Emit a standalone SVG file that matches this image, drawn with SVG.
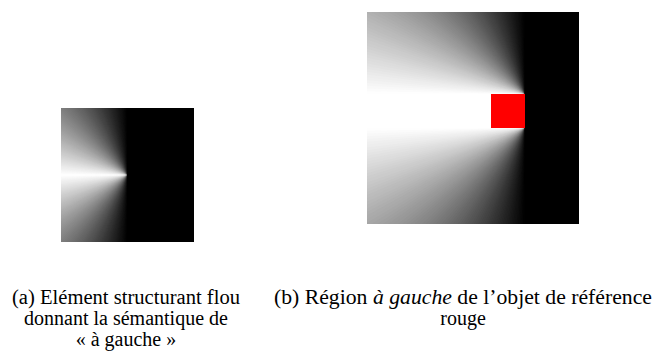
<svg xmlns="http://www.w3.org/2000/svg" width="659" height="354" viewBox="0 0 659 354">
<style>
.cap{font-family:"Liberation Serif","Times New Roman",Times,"Nimbus Roman","Noto Serif","DejaVu Serif",serif;font-size:20px;fill:#000;text-anchor:middle}
.it{font-style:italic}
</style>
<defs>
<polygon id="w" points="0,0 -2000,0 -2000,-2000 0,-2000"/>
<g id="fan">
<use href="#w" transform="rotate(0)" fill="#fefefe"/>
<use href="#w" transform="rotate(1)" fill="#fbfbfb"/>
<use href="#w" transform="rotate(2)" fill="#f8f8f8"/>
<use href="#w" transform="rotate(3)" fill="#f5f5f5"/>
<use href="#w" transform="rotate(4)" fill="#f2f2f2"/>
<use href="#w" transform="rotate(5)" fill="#efefef"/>
<use href="#w" transform="rotate(6)" fill="#ededed"/>
<use href="#w" transform="rotate(7)" fill="#eaeaea"/>
<use href="#w" transform="rotate(8)" fill="#e7e7e7"/>
<use href="#w" transform="rotate(9)" fill="#e4e4e4"/>
<use href="#w" transform="rotate(10)" fill="#e1e1e1"/>
<use href="#w" transform="rotate(11)" fill="#dedede"/>
<use href="#w" transform="rotate(12)" fill="#dcdcdc"/>
<use href="#w" transform="rotate(13)" fill="#d9d9d9"/>
<use href="#w" transform="rotate(14)" fill="#d6d6d6"/>
<use href="#w" transform="rotate(15)" fill="#d3d3d3"/>
<use href="#w" transform="rotate(16)" fill="#d0d0d0"/>
<use href="#w" transform="rotate(17)" fill="#cdcdcd"/>
<use href="#w" transform="rotate(18)" fill="#cbcbcb"/>
<use href="#w" transform="rotate(19)" fill="#c8c8c8"/>
<use href="#w" transform="rotate(20)" fill="#c5c5c5"/>
<use href="#w" transform="rotate(21)" fill="#c2c2c2"/>
<use href="#w" transform="rotate(22)" fill="#bfbfbf"/>
<use href="#w" transform="rotate(23)" fill="#bcbcbc"/>
<use href="#w" transform="rotate(24)" fill="#bababa"/>
<use href="#w" transform="rotate(25)" fill="#b7b7b7"/>
<use href="#w" transform="rotate(26)" fill="#b4b4b4"/>
<use href="#w" transform="rotate(27)" fill="#b1b1b1"/>
<use href="#w" transform="rotate(28)" fill="#aeaeae"/>
<use href="#w" transform="rotate(29)" fill="#ababab"/>
<use href="#w" transform="rotate(30)" fill="#a9a9a9"/>
<use href="#w" transform="rotate(31)" fill="#a6a6a6"/>
<use href="#w" transform="rotate(32)" fill="#a3a3a3"/>
<use href="#w" transform="rotate(33)" fill="#a0a0a0"/>
<use href="#w" transform="rotate(34)" fill="#9d9d9d"/>
<use href="#w" transform="rotate(35)" fill="#9a9a9a"/>
<use href="#w" transform="rotate(36)" fill="#989898"/>
<use href="#w" transform="rotate(37)" fill="#959595"/>
<use href="#w" transform="rotate(38)" fill="#929292"/>
<use href="#w" transform="rotate(39)" fill="#8f8f8f"/>
<use href="#w" transform="rotate(40)" fill="#8c8c8c"/>
<use href="#w" transform="rotate(41)" fill="#898989"/>
<use href="#w" transform="rotate(42)" fill="#878787"/>
<use href="#w" transform="rotate(43)" fill="#848484"/>
<use href="#w" transform="rotate(44)" fill="#818181"/>
<use href="#w" transform="rotate(45)" fill="#7e7e7e"/>
<use href="#w" transform="rotate(46)" fill="#7b7b7b"/>
<use href="#w" transform="rotate(47)" fill="#787878"/>
<use href="#w" transform="rotate(48)" fill="#767676"/>
<use href="#w" transform="rotate(49)" fill="#737373"/>
<use href="#w" transform="rotate(50)" fill="#707070"/>
<use href="#w" transform="rotate(51)" fill="#6d6d6d"/>
<use href="#w" transform="rotate(52)" fill="#6a6a6a"/>
<use href="#w" transform="rotate(53)" fill="#676767"/>
<use href="#w" transform="rotate(54)" fill="#656565"/>
<use href="#w" transform="rotate(55)" fill="#626262"/>
<use href="#w" transform="rotate(56)" fill="#5f5f5f"/>
<use href="#w" transform="rotate(57)" fill="#5c5c5c"/>
<use href="#w" transform="rotate(58)" fill="#595959"/>
<use href="#w" transform="rotate(59)" fill="#565656"/>
<use href="#w" transform="rotate(60)" fill="#545454"/>
<use href="#w" transform="rotate(61)" fill="#515151"/>
<use href="#w" transform="rotate(62)" fill="#4e4e4e"/>
<use href="#w" transform="rotate(63)" fill="#4b4b4b"/>
<use href="#w" transform="rotate(64)" fill="#484848"/>
<use href="#w" transform="rotate(65)" fill="#454545"/>
<use href="#w" transform="rotate(66)" fill="#434343"/>
<use href="#w" transform="rotate(67)" fill="#404040"/>
<use href="#w" transform="rotate(68)" fill="#3d3d3d"/>
<use href="#w" transform="rotate(69)" fill="#3a3a3a"/>
<use href="#w" transform="rotate(70)" fill="#373737"/>
<use href="#w" transform="rotate(71)" fill="#343434"/>
<use href="#w" transform="rotate(72)" fill="#323232"/>
<use href="#w" transform="rotate(73)" fill="#2f2f2f"/>
<use href="#w" transform="rotate(74)" fill="#2c2c2c"/>
<use href="#w" transform="rotate(75)" fill="#292929"/>
<use href="#w" transform="rotate(76)" fill="#262626"/>
<use href="#w" transform="rotate(77)" fill="#232323"/>
<use href="#w" transform="rotate(78)" fill="#212121"/>
<use href="#w" transform="rotate(79)" fill="#1e1e1e"/>
<use href="#w" transform="rotate(80)" fill="#1b1b1b"/>
<use href="#w" transform="rotate(81)" fill="#181818"/>
<use href="#w" transform="rotate(82)" fill="#151515"/>
<use href="#w" transform="rotate(83)" fill="#121212"/>
<use href="#w" transform="rotate(84)" fill="#101010"/>
<use href="#w" transform="rotate(85)" fill="#0d0d0d"/>
<use href="#w" transform="rotate(86)" fill="#0a0a0a"/>
<use href="#w" transform="rotate(87)" fill="#070707"/>
<use href="#w" transform="rotate(88)" fill="#040404"/>
<use href="#w" transform="rotate(89)" fill="#010101"/>
<use href="#w" transform="rotate(90)" fill="#000000"/>
</g>
<clipPath id="cA"><rect x="61" y="108" width="133" height="134"/></clipPath>
<clipPath id="cB"><rect x="367" y="12" width="212" height="212"/></clipPath>
</defs>
<rect width="659" height="354" fill="#fff"/>
<g id="elementA" clip-path="url(#cA)">
<rect x="61" y="108" width="133" height="134" fill="#000"/>
<use href="#fan" transform="translate(127.5,175)"/>
<use href="#fan" transform="translate(127.5,175) scale(1,-1)"/>
</g>
<g id="regionB" clip-path="url(#cB)">
<rect x="367" y="12" width="212" height="212" fill="#000"/>
<use href="#fan" transform="translate(525,94)"/>
<use href="#fan" transform="translate(525,128) scale(1,-1)"/>
<rect x="367" y="94" width="158" height="34" fill="#fff"/>
</g>
<g id="redObject">
<rect x="491" y="94" width="34" height="34" fill="#ff0000"/>
</g>
<g id="captionA">
<text class="cap" x="126" y="304" textLength="228" lengthAdjust="spacingAndGlyphs">(a) Elément structurant flou</text>
<text class="cap" x="126" y="325">donnant la sémantique de</text>
<text class="cap" x="126" y="346">« à gauche »</text>
</g>
<g id="captionB">
<text class="cap" x="463" y="304" textLength="378" lengthAdjust="spacingAndGlyphs">(b) Région <tspan class="it">à gauche</tspan> de l’objet de référence</text>
<text class="cap" x="463" y="325">rouge</text>
</g>
</svg>
